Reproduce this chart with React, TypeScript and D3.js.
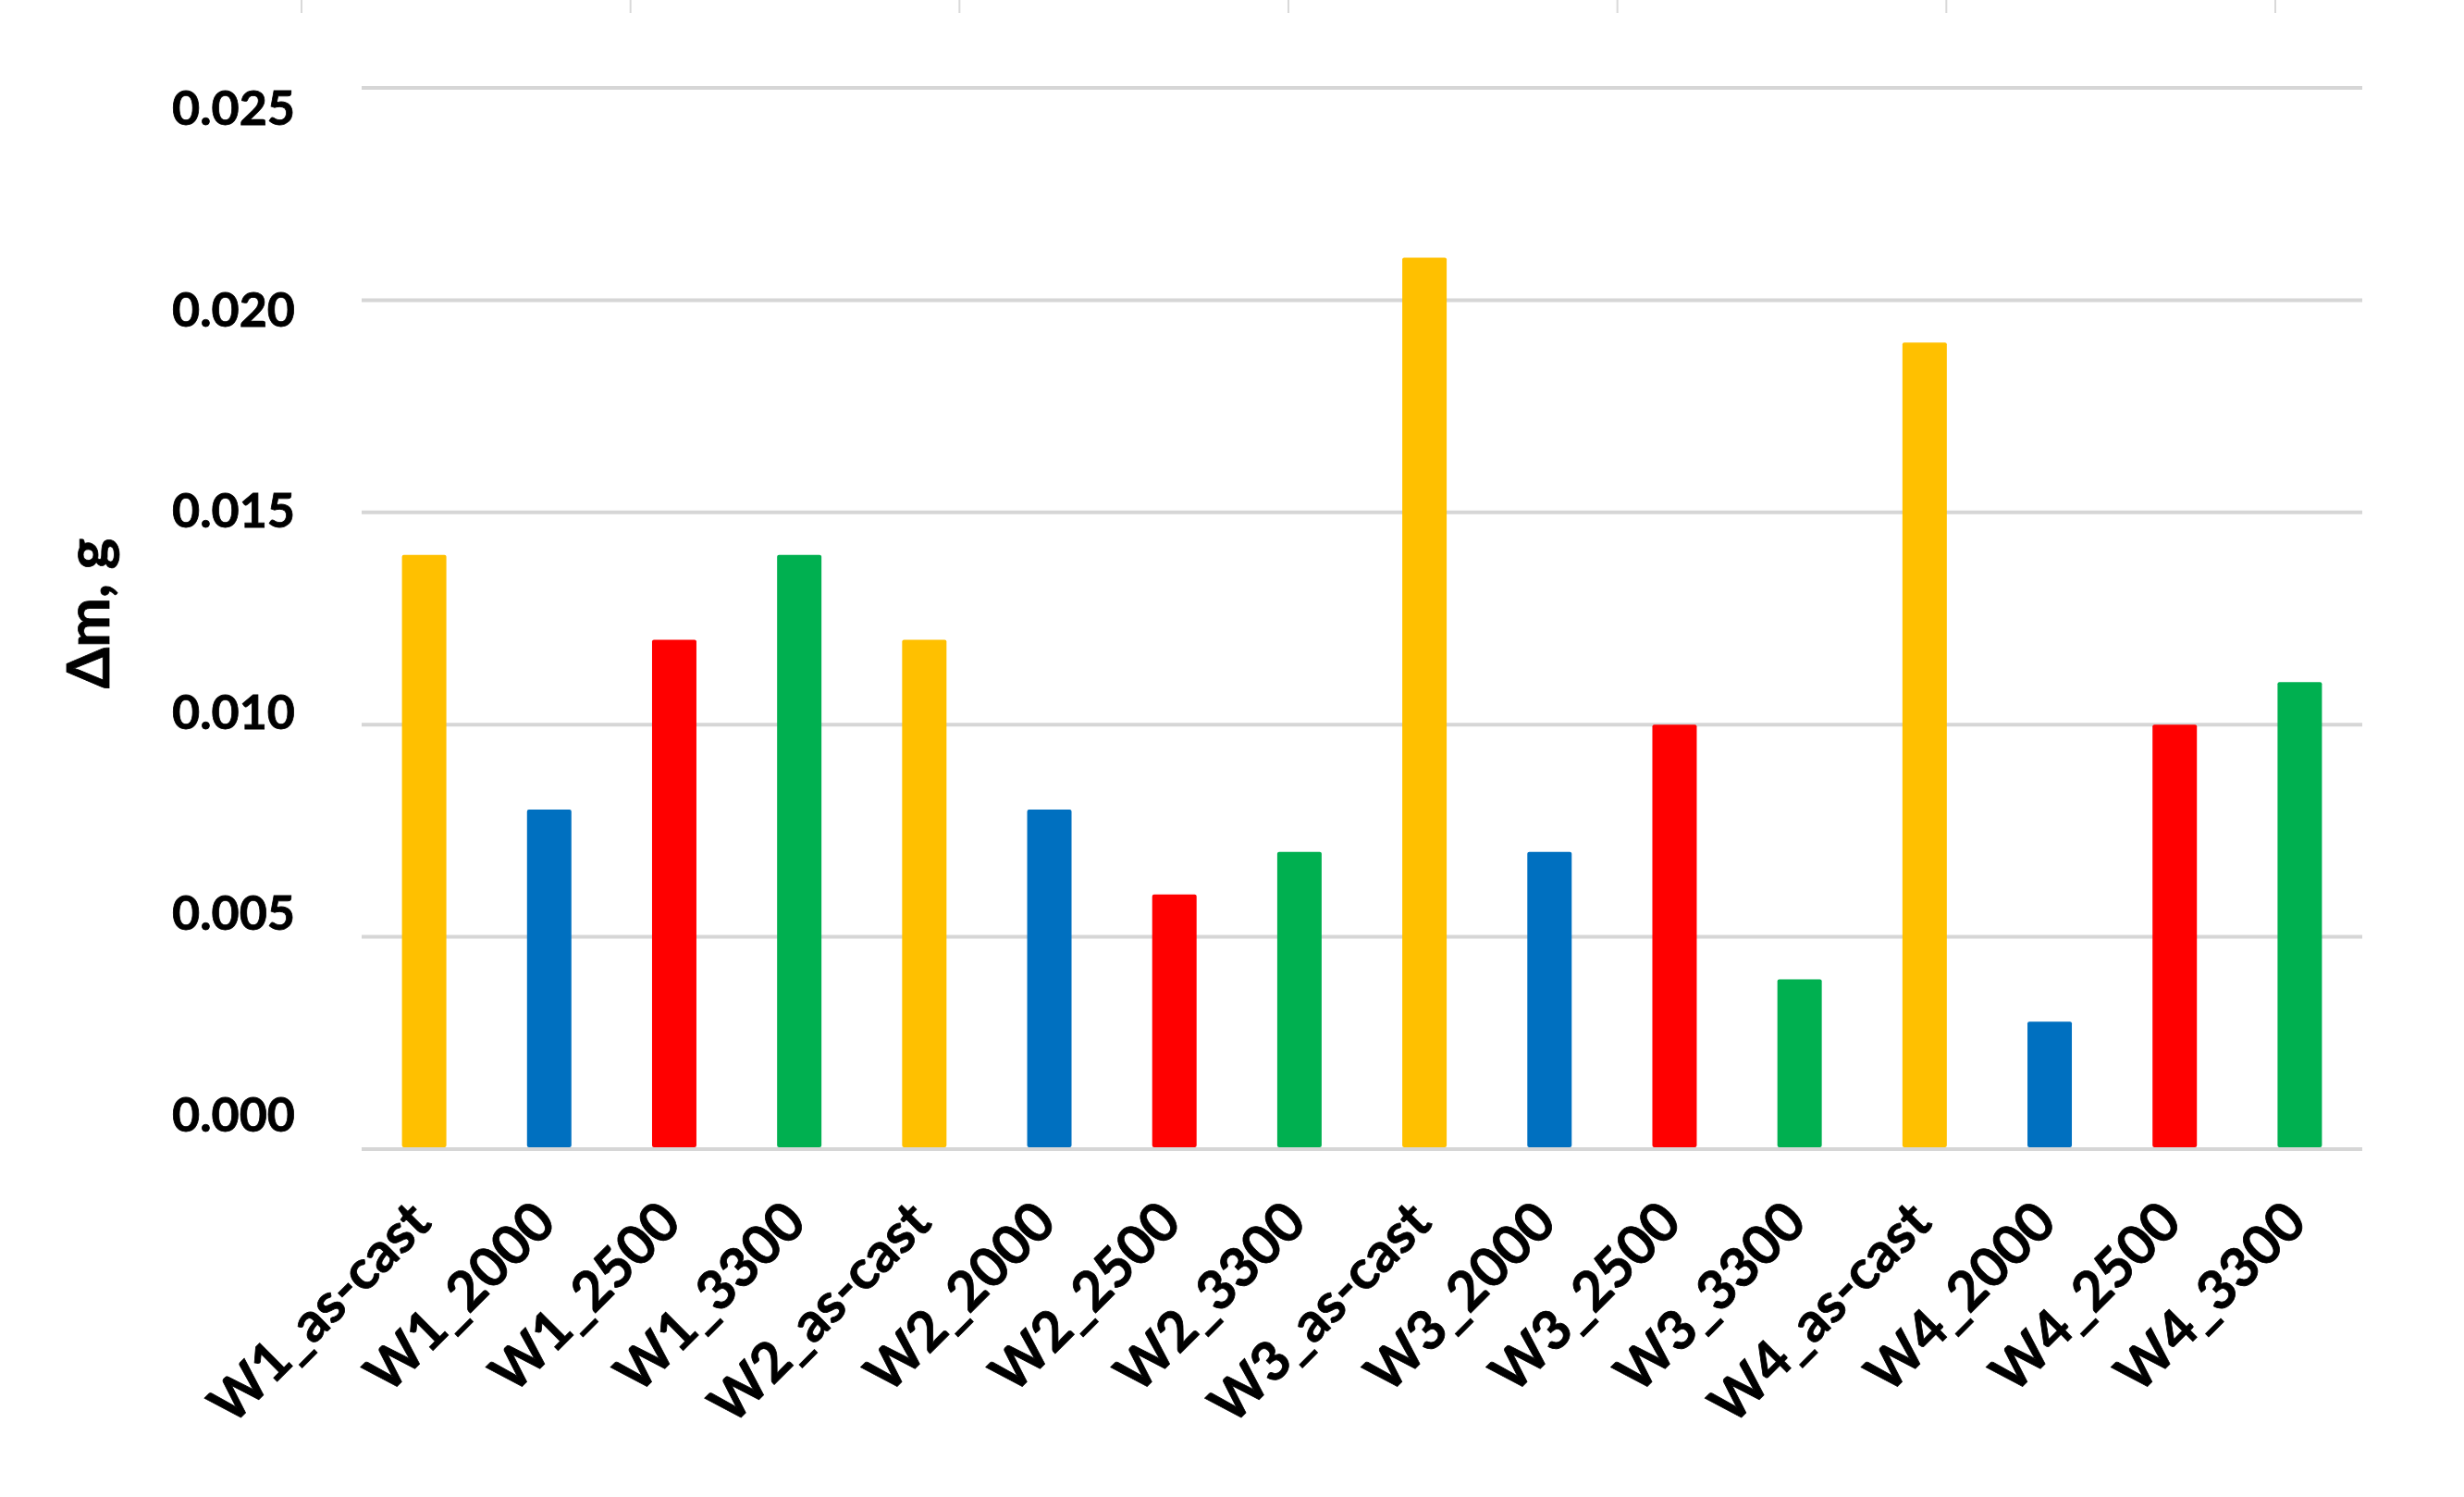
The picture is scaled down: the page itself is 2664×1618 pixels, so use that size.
import React from "react";
import * as d3 from "d3";

const categories = [
  "W1_as-cast", "W1_2000", "W1_2500", "W1_3300",
  "W2_as-cast", "W2_2000", "W2_2500", "W2_3300",
  "W3_as-cast", "W3_2000", "W3_2500", "W3_3300",
  "W4_as-cast", "W4_2000", "W4_2500", "W4_3300",
];
const values = [
  0.014, 0.008, 0.012, 0.014,
  0.012, 0.008, 0.006, 0.007,
  0.021, 0.007, 0.010, 0.004,
  0.019, 0.003, 0.010, 0.011,
];
const treatments = ["as-cast", "2000", "2500", "3300"];
const treatmentColors = ["#FFC000", "#0070C0", "#FF0000", "#00B050"];
const yTicks = [0, 0.005, 0.01, 0.015, 0.02, 0.025];
const yTitle = "Δm, g";
const topMarks = [0, 1, 2, 3, 4, 5, 6];

const W = 2664;
const H = 1618;
const FONT = "Lato, 'Liberation Sans', Arial, sans-serif";

export default function App() {
  const x = d3.scaleBand<string>().domain(categories).range([391, 2554]).paddingInner(0.645).paddingOuter(0.3225);
  const y = d3.scaleLinear().domain([0, 0.025]).range([1242, 95]);
  const yLab = d3.scaleLinear().domain([0, 0.025]).range([1203, 115]);
  const color = d3.scaleOrdinal<string, string>().domain(treatments).range(treatmentColors);
  const topX = d3.scaleLinear().domain([0, 6]).range([326, 2460]);
  const fmt = d3.format(".3f");
  const treatOf = (c: string) => c.split("_")[1];

  return (
    <svg width={W} height={H} style={{ position: "absolute", left: 0, top: 0, background: "#fff" }} fontFamily={FONT}>
      <rect x={0} y={0} width={W} height={H} fill="#fff" />
      {topMarks.map((m) => (
        <line key={m} x1={topX(m)} x2={topX(m)} y1={0} y2={14} stroke="#d9d9d9" strokeWidth={2} />
      ))}
      {yTicks.map((t) => (
        <line key={"g" + t} x1={391} x2={2554} y1={y(t)} y2={y(t)} stroke="#d6d6d6" strokeWidth={4} />
      ))}
      {yTicks.map((t) => (
        <text key={"l" + t} x={319} y={yLab(t)} textAnchor="end" dominantBaseline="central" fontWeight="bold" fontSize={52} fill="#000" stroke="#000" strokeWidth={0.8}>
          {fmt(t)}
        </text>
      ))}
      <text transform={`translate(118,663) rotate(-90)`} textAnchor="middle" fontWeight="bold" fontSize={64} fill="#000" stroke="#000" strokeWidth={0.8}>
        {yTitle}
      </text>
      {categories.map((c, i) => (
        <rect key={c} x={x(c)} y={y(values[i])} width={x.bandwidth()} height={y(0) - y(values[i]) - 2} fill={color(treatOf(c))} rx={2} />
      ))}
      {categories.map((c) => {
        const cx = (x(c) as number) + x.bandwidth() / 2 + 10;
        const cy = 1324;
        return (
          <text key={"x" + c} transform={`translate(${cx},${cy}) rotate(-45)`} textAnchor="end" fontWeight="bold" fontSize={59} fill="#000" stroke="#000" strokeWidth={0.8}>
            {c}
          </text>
        );
      })}
    </svg>
  );
}
